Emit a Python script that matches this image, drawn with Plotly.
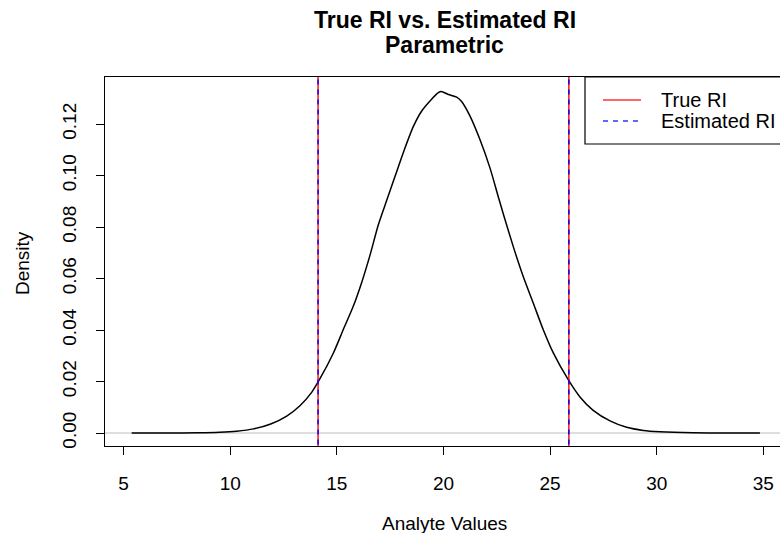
import plotly.graph_objects as go

# Kernel density estimate of the analyte values (read at selected points)
analyte_x = [5.38, 7.0, 8.5, 9.5, 10.3, 11.1, 11.9, 12.65, 13.27, 13.82, 14.17,
             14.84, 15.30, 15.77, 16.17, 16.56, 16.95, 17.34, 17.73, 18.12, 18.59,
             18.98, 19.37, 19.76, 19.90, 20.23, 20.62, 20.86, 21.24, 21.71, 22.18,
             22.57, 22.81, 23.27, 23.74, 24.21, 24.68, 25.15, 25.85, 26.40, 27.02,
             27.81, 28.59, 29.37, 30.15, 31.7, 33.2, 34.84]
density_y = [0.0, 0.00002, 0.0001, 0.0003, 0.0007, 0.0016, 0.0035, 0.0066, 0.0106,
             0.0158, 0.0205, 0.0311, 0.0401, 0.0492, 0.0586, 0.0692, 0.0810, 0.0904,
             0.0997, 0.1090, 0.1191, 0.1251, 0.1290, 0.1322, 0.1327, 0.1315, 0.1305,
             0.1287, 0.1232, 0.1140, 0.1030, 0.0918, 0.0850, 0.0725, 0.0608, 0.0505,
             0.0401, 0.0311, 0.0207, 0.0140, 0.0088, 0.0047, 0.0022, 0.0010, 0.0005,
             0.0001, 0.00002, 0.0]

# Reference interval limits
true_ri = [14.12, 25.88]
estimated_ri = [14.12, 25.88]

x_ticks = [5, 10, 15, 20, 25, 30, 35]
y_ticks = [0.00, 0.02, 0.04, 0.06, 0.08, 0.10, 0.12]

W, H = 780, 533
L, R, T, B = 105, 0, 77, 87
PW, PH = W - L - R, H - T - B
FONT = "Liberation Sans, Arial, Helvetica, sans-serif"


def px(xp):
    return (xp - L) / PW


def py(yp):
    return (H - B - yp) / PH


fig = go.Figure()

fig.add_trace(go.Scatter(x=analyte_x, y=density_y, mode="lines",
                         line=dict(color="black", width=1.5, shape="spline", smoothing=0.7),
                         showlegend=False, hoverinfo="skip"))

yspan = [-0.02, 0.2]
for v in true_ri:
    fig.add_trace(go.Scatter(x=[v, v], y=yspan, mode="lines",
                             line=dict(color="#ff0000", width=1.4),
                             showlegend=False, hoverinfo="skip"))
for v in estimated_ri:
    fig.add_trace(go.Scatter(x=[v, v], y=yspan, mode="lines",
                             line=dict(color="#0000ff", width=1.4, dash="5px,5px"),
                             showlegend=False, hoverinfo="skip"))

shapes = [
    # zero line
    dict(type="line", xref="paper", yref="y", x0=0, x1=1, y0=0, y1=0,
         line=dict(color="#bebebe", width=1), layer="below"),
    # legend box
    dict(type="rect", xref="paper", yref="paper", x0=px(585), x1=px(800),
         y0=py(144), y1=py(77), line=dict(color="black", width=1.2),
         fillcolor="white"),
    dict(type="line", xref="paper", yref="paper", x0=px(603), x1=px(641),
         y0=py(100), y1=py(100), line=dict(color="#ff3333", width=1.4)),
    dict(type="line", xref="paper", yref="paper", x0=px(603), x1=px(641),
         y0=py(121), y1=py(121), line=dict(color="#3333ff", width=1.4, dash="5px,5px")),
]

annotations = [
    dict(text="<b>True RI vs. Estimated RI</b>", x=px(445), y=py(20), xref="paper",
         yref="paper", showarrow=False, font=dict(size=23, family=FONT, color="black"),
         xanchor="center", yanchor="middle"),
    dict(text="<b>Parametric</b>", x=px(445), y=py(45), xref="paper",
         yref="paper", showarrow=False, font=dict(size=23, family=FONT, color="black"),
         xanchor="center", yanchor="middle"),
    dict(text="Analyte Values", x=px(445), y=py(523), xref="paper", yref="paper",
         showarrow=False, font=dict(size=19, family=FONT, color="black"),
         xanchor="center", yanchor="middle"),
    dict(text="Density", x=px(22), y=py(263), xref="paper", yref="paper",
         showarrow=False, font=dict(size=19, family=FONT, color="black"),
         textangle=-90, xanchor="center", yanchor="middle"),
    dict(text="True RI", x=px(659), y=py(100), xref="paper", yref="paper",
         showarrow=False, font=dict(size=20, family=FONT, color="black"),
         xanchor="left", yanchor="middle"),
    dict(text="Estimated RI", x=px(659), y=py(121), xref="paper", yref="paper",
         showarrow=False, font=dict(size=20, family=FONT, color="black"),
         xanchor="left", yanchor="middle"),
]

fig.update_layout(
    width=W, height=H,
    margin=dict(l=L, r=R, t=T, b=B, pad=0),
    paper_bgcolor="white", plot_bgcolor="white",
    font=dict(family=FONT, size=19, color="black"),
    shapes=shapes, annotations=annotations,
    showlegend=False,
)

fig.update_xaxes(range=[4.13, 35.78], tickvals=x_ticks, ticktext=[str(t) for t in x_ticks],
                 showgrid=False, zeroline=False, showline=True, linecolor="black",
                 linewidth=1.2, mirror=True, ticks="outside", ticklen=8, tickwidth=1.2,
                 tickcolor="black", tickfont=dict(size=19, family=FONT),
                 ticklabelstandoff=12)
fig.update_yaxes(range=[-0.00505, 0.1383], tickvals=y_ticks,
                 ticktext=[f"{t:.2f}" for t in y_ticks],
                 showgrid=False, zeroline=False, showline=True, linecolor="black",
                 linewidth=1.2, ticks="outside", ticklen=8, tickwidth=1.2,
                 tickcolor="black", tickangle=-90, tickfont=dict(size=19, family=FONT),
                 ticklabelstandoff=12)

fig.write_html("out.html")
